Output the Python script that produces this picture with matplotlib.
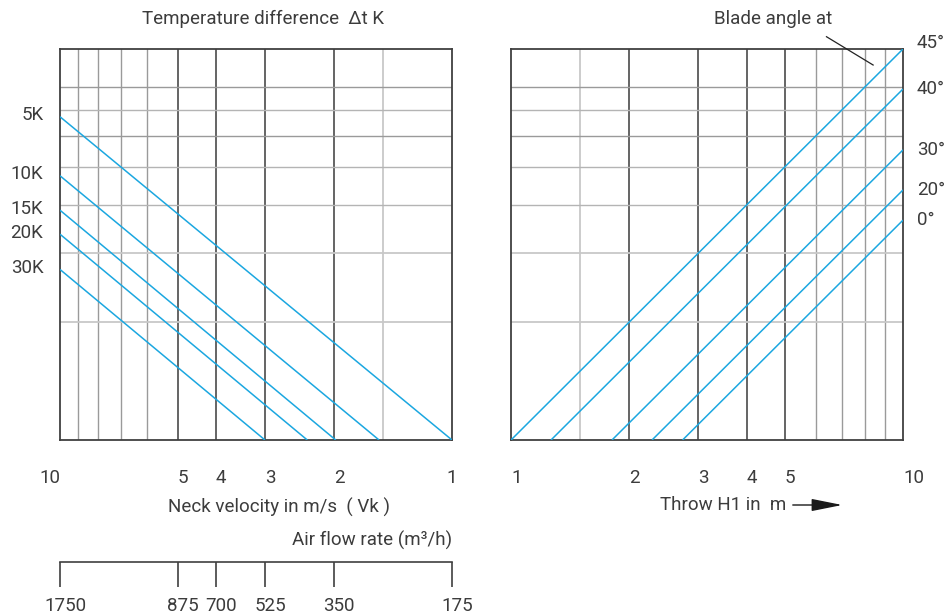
import numpy as np
import matplotlib
matplotlib.use('Agg')
import matplotlib.pyplot as plt
import matplotlib.transforms as mtrans
from matplotlib.ticker import NullLocator, FixedLocator

plt.rcParams['font.family'] = ['Roboto', 'DejaVu Sans']

# ---------------- data ----------------
velocity_ticks = [10, 5, 4, 3, 2, 1]
velocity_tick_labels = ['10', '5', '4', '3', '2', '1']
airflow_ticks = [1750, 875, 700, 525, 350, 175]
airflow_tick_labels = ['1750', '875', '700', '525', '350', '175']
throw_ticks = [1, 2, 3, 4, 5, 10]
throw_tick_labels = ['1', '2', '3', '4', '5', '10']

temp_labels = ['5K', '10K', '15K', '20K', '30K']
temp_v_start = [10, 10, 10, 10, 10]
temp_y_start = [6.71, 4.74, 3.87, 3.36, 2.73]
temp_v_end = [1.0, 1.535, 1.98, 2.34, 3.0]
temp_y_end = [1, 1, 1, 1, 1]

blade_labels = ['45°', '40°', '30°', '20°', '0°']
blade_h_start = [1.0, 1.265, 1.81, 2.29, 2.74]
blade_y_start = [1, 1, 1, 1, 1]
blade_h_end = [10, 10, 10, 10, 10]
blade_y_end = [10, 7.9, 5.52, 4.36, 3.65]

grid_x_dark = [2, 3, 4, 5]
grid_x_mid = [6, 7, 8, 9]
grid_x_light = [1.5]
grid_y_mid = [8, 6]
grid_y_soft = [7, 5, 4]
grid_y_light = [3, 2]

# ---------------- style ----------------
W, H = 949, 614
BLUE = '#1ba7e0'
TXT = '#3c3c3c'
FS = 13.5
fig = plt.figure(figsize=(W / 100, H / 100), dpi=100)


def box(x0, y0, x1, y1):
    return [x0 / W, 1 - y1 / H, (x1 - x0) / W, (y1 - y0) / H]


def fpt(x, y):
    return x / W, 1 - y / H


axL = fig.add_axes(box(60, 49, 452, 440))
axR = fig.add_axes(box(511, 49, 903, 440))

for ax in (axL, axR):
    ax.set_xscale('log')
    ax.set_yscale('log')
    ax.set_ylim(1, 10)
    ax.yaxis.set_major_locator(NullLocator())
    ax.yaxis.set_minor_locator(NullLocator())
    ax.xaxis.set_minor_locator(NullLocator())
    for s in ax.spines.values():
        s.set_color('#404040')
        s.set_linewidth(1.3)
    for v in grid_x_dark:
        ax.axvline(v, color='#3a3a3a', lw=1.1, zorder=1)
    for v in grid_x_mid:
        ax.axvline(v, color='#9a9a9a', lw=1.0, zorder=1)
    for v in grid_x_light:
        ax.axvline(v, color='#c8c8c8', lw=1.3, zorder=1)
    for v in grid_y_mid:
        ax.axhline(v, color='#9a9a9a', lw=1.0, zorder=1)
    for v in grid_y_soft:
        ax.axhline(v, color='#b4b4b4', lw=1.0, zorder=1)
    for v in grid_y_light:
        ax.axhline(v, color='#c8c8c8', lw=1.3, zorder=1)
    ax.tick_params(axis='x', length=0, pad=21, labelsize=FS, labelcolor=TXT)

axL.set_xlim(10, 1)
axL.xaxis.set_major_locator(FixedLocator(velocity_ticks))
axL.set_xticklabels(velocity_tick_labels)
labs = axL.get_xticklabels()
for lab in labs:
    lab.set_ha('left')
labs[0].set_ha('right')
labs[-1].set_ha('center')

axR.set_xlim(1, 10)
axR.xaxis.set_major_locator(FixedLocator(throw_ticks))
axR.set_xticklabels(throw_tick_labels)
for lab in axR.get_xticklabels():
    lab.set_ha('left')

# temperature lines
for lab, v0, y0, v1, y1 in zip(temp_labels, temp_v_start, temp_y_start, temp_v_end, temp_y_end):
    axL.plot([v0, v1], [y0, y1], color=BLUE, lw=1.1, zorder=3, solid_capstyle='butt')
    axL.annotate(lab, xy=(v0, y0), xytext=(-12, 1), textcoords='offset points',
                 ha='right', va='center', fontsize=FS, color=TXT)

# blade angle lines
for i, (lab, h0, y0, h1, y1) in enumerate(zip(blade_labels, blade_h_start, blade_y_start, blade_h_end, blade_y_end)):
    axR.plot([h0, h1], [y0, y1], color=BLUE, lw=1.1, zorder=3, solid_capstyle='butt')
    dy = 4 if i == 0 else 0
    axR.annotate(lab, xy=(h1, y1), xytext=(10, dy), textcoords='offset points',
                 ha='left', va='center', fontsize=FS, color=TXT)

# leader line for "Blade angle at"
axR.plot([6.38, 8.39], [10.75, 9.1], color='#222222', lw=0.9, clip_on=False, zorder=4)

# airflow scale
axA = fig.add_axes(box(60, 561, 452, 562))
axA.set_xscale('log')
axA.set_xlim(1750, 175)
axA.xaxis.set_minor_locator(NullLocator())
axA.xaxis.set_major_locator(FixedLocator(airflow_ticks))
axA.set_xticklabels(airflow_tick_labels)
axA.yaxis.set_major_locator(NullLocator())
for k in ('top', 'left', 'right'):
    axA.spines[k].set_visible(False)
axA.spines['bottom'].set_color('#404040')
axA.spines['bottom'].set_linewidth(1.2)
axA.tick_params(axis='x', direction='out', length=18, width=1.2, color='#404040',
                pad=7, labelsize=FS, labelcolor=TXT)
axA.patch.set_alpha(0)
shift = mtrans.ScaledTranslation(5 / 100, 0, fig.dpi_scale_trans)
for lab in axA.get_xticklabels():
    lab.set_transform(lab.get_transform() + shift)

# texts
fig.text(*fpt(142, 19), 'Temperature difference  Δt K', ha='left', va='center', fontsize=FS, color=TXT)
fig.text(*fpt(832, 19), 'Blade angle at', ha='right', va='center', fontsize=FS, color=TXT)
fig.text(*fpt(168, 507), 'Neck velocity in m/s  ( Vk )', ha='left', va='center', fontsize=FS, color=TXT)
fig.text(*fpt(452, 540), 'Air flow rate (m³/h)', ha='right', va='center', fontsize=FS, color=TXT)
fig.text(*fpt(660, 505), 'Throw H1 in  m', ha='left', va='center', fontsize=FS, color=TXT)

# arrow next to throw label
fig.add_artist(matplotlib.patches.FancyArrowPatch(
    fpt(790, 505), fpt(845, 505), transform=fig.transFigure,
    arrowstyle='-|>,head_length=1.9,head_width=0.38', mutation_scale=10,
    color='#1a1a1a', lw=1.0))

fig.savefig('out.png', dpi=100)
